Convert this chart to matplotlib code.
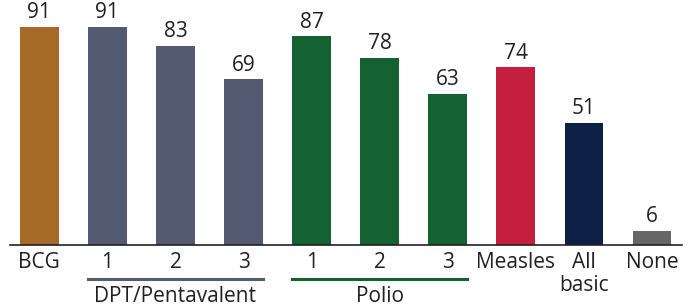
import matplotlib
matplotlib.use('Agg')
import matplotlib.pyplot as plt

plt.rcParams['font.family'] = ['Open Sans', 'DejaVu Sans']

labels = ['BCG', '1', '2', '3', '1', '2', '3', 'Measles', 'All\nbasic', 'None']
values = [91, 91, 83, 69, 87, 78, 63, 74, 51, 6]
colors = ['#A66A28', '#555A73', '#555A73', '#555A73',
          '#146232', '#146232', '#146232', '#C41F3D', '#0C1F45', '#666666']
groups = [('DPT/Pentavalent', 1, 3, '#555A73'), ('Polio', 4, 6, '#146232')]

fig = plt.figure(figsize=(6.94, 3.07), dpi=100)
ax = fig.add_axes([10 / 694, 62 / 307, 672 / 694, 240 / 307])

x = range(len(values))
ax.bar(x, values, width=0.57, color=colors)
for i, v in zip(x, values):
    ax.text(i, v + 1.5, str(v), ha='center', va='bottom', fontsize=15, color='#231f20')

ax.set_xlim(-0.43, 9.44)
ax.set_ylim(0, 100)
ax.set_yticks([])
ax.set_xticks(list(x))
ax.set_xticklabels(labels, fontsize=15, color='#231f20', linespacing=1.1)
ax.tick_params(axis='x', length=0, pad=5)
for s in ['top', 'right', 'left']:
    ax.spines[s].set_visible(False)
ax.spines['bottom'].set_color('#231f20')
ax.spines['bottom'].set_linewidth(1.2)

# group brackets under the tick labels
for name, a, b, col in groups:
    ax.plot([a - 0.285, b + 0.285], [-14, -14], color=col, lw=2.2, clip_on=False)
    ax.text((a + b) / 2, -17, name, ha='center', va='top', fontsize=15, color='#231f20')

fig.savefig('out.png', dpi=100)
